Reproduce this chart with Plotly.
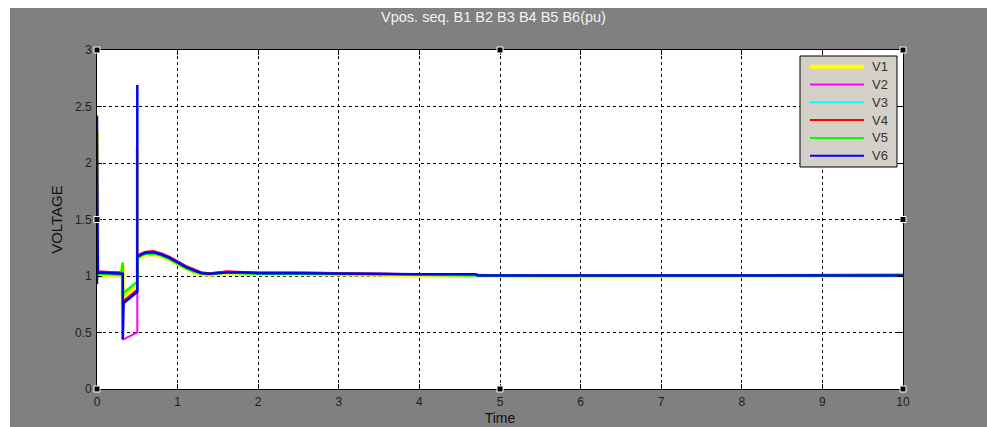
import plotly.graph_objects as go

# Simulation time (s); repeated instants mark step changes at fault/clear events
time_s = [0.0, 0.0, 0.01, 0.3, 0.32, 0.32, 0.33, 0.5, 0.5, 0.5, 0.55, 0.6, 0.7, 0.8,
          0.9, 1.0, 1.1, 1.2, 1.3, 1.4, 1.5, 1.6, 1.8, 2.0, 2.5, 3.0, 3.5, 4.0,
          4.7, 4.72, 5.5, 7.0, 7.6, 10.0]

# Positive-sequence bus voltages (pu)
v1 = [1.0, 2.29, 1.0, 1.0, 1.1, 0.7, 0.82, 0.93, 2.12, 1.15, 1.17, 1.19, 1.195, 1.175,
      1.145, 1.105, 1.065, 1.035, 1.015, 1.01, 1.02, 1.025, 1.02, 1.015, 1.015, 1.015,
      1.01, 1.005, 1.005, 1.0, 0.995, 0.995, 1.0, 1.0]
v2 = [1.04, 1.04, 1.04, 1.03, 1.03, 0.44, 0.44, 0.5, 0.5, 1.17, 1.19, 1.21, 1.22, 1.20,
      1.17, 1.13, 1.09, 1.06, 1.03, 1.025, 1.035, 1.04, 1.035, 1.03, 1.03, 1.025,
      1.02, 1.015, 1.015, 1.005, 1.005, 1.005, 1.01, 1.01]
v3 = [1.03, 1.03, 1.03, 1.02, 1.02, 0.74, 0.77, 0.87, 0.87, 1.17, 1.195, 1.21, 1.215, 1.195,
      1.165, 1.125, 1.085, 1.055, 1.025, 1.02, 1.03, 1.035, 1.03, 1.025, 1.025, 1.02,
      1.02, 1.015, 1.015, 1.005, 1.005, 1.005, 1.005, 1.005]
v4 = [1.04, 1.04, 1.04, 1.03, 1.03, 0.75, 0.78, 0.88, 0.88, 1.18, 1.20, 1.215, 1.22, 1.20,
      1.17, 1.13, 1.09, 1.06, 1.03, 1.025, 1.035, 1.04, 1.035, 1.03, 1.03, 1.025,
      1.02, 1.015, 1.015, 1.01, 1.005, 1.005, 1.01, 1.01]
v5 = [1.02, 1.02, 1.02, 1.01, 1.12, 0.8, 0.85, 0.95, 0.95, 1.16, 1.18, 1.195, 1.20, 1.18,
      1.15, 1.11, 1.07, 1.04, 1.02, 1.015, 1.025, 1.03, 1.025, 1.02, 1.02, 1.02,
      1.015, 1.01, 1.01, 1.005, 1.0, 1.0, 1.005, 1.005]
v6 = [0.93, 2.42, 1.03, 1.02, 1.02, 0.44, 0.76, 0.86, 2.69, 1.17, 1.19, 1.205, 1.21, 1.19,
      1.16, 1.12, 1.08, 1.05, 1.025, 1.02, 1.025, 1.03, 1.03, 1.025, 1.025, 1.02,
      1.02, 1.015, 1.015, 1.005, 1.005, 1.005, 1.005, 1.005]

series_names = ["V1", "V2", "V3", "V4", "V5", "V6"]
series_values = [v1, v2, v3, v4, v5, v6]
series_colors = ["#ffff00", "#ff00ff", "#00ffff", "#ff0000", "#00ff00", "#0000ff"]
series_widths = [4, 2, 2, 2, 2.5, 2.5]

x_ticks = [0, 1, 2, 3, 4, 5, 6, 7, 8, 9, 10]
y_ticks = [0, 0.5, 1, 1.5, 2, 2.5, 3]
y_tick_text = ["0", "0.5", "1", "1.5", "2", "2.5", "3"]

FONT = "Liberation Sans, Arial"
W, H = 987, 427
ML, MR, MT, MB = 97, 84, 50, 38
PW, PH = W - ML - MR, H - MT - MB


def px_x(p):
    return (p - ML) / PW


def px_y(p):
    return (H - MB - p) / PH


fig = go.Figure()
for name, vals, col, wd in zip(series_names, series_values, series_colors, series_widths):
    fig.add_trace(go.Scatter(x=time_s, y=vals, mode="lines", name=name,
                             line=dict(color=col, width=wd), showlegend=False))

axis_common = dict(
    showline=True, linecolor="#000000", linewidth=1, mirror="ticks",
    ticks="inside", ticklen=5, tickcolor="#000000",
    showgrid=True, gridcolor="#000000", gridwidth=1, griddash="3px,3px",
    zeroline=False, ticklabelstandoff=2, automargin=False,
    tickfont=dict(family=FONT, size=12, color="#1e1e1e"),
)

fig.update_xaxes(range=[0, 10], tickvals=x_ticks,
                 title=dict(text="Time", standoff=4,
                            font=dict(family=FONT, size=14, color="#111111")),
                 **axis_common)
fig.update_yaxes(range=[0, 3], tickvals=y_ticks, ticktext=y_tick_text,
                 title=dict(text="VOLTAGE", standoff=8,
                            font=dict(family=FONT, size=15, color="#111111")),
                 **axis_common)

shapes = [
    # white page strip above and left of the grey figure window
    dict(type="rect", xref="paper", yref="paper", layer="above",
         x0=px_x(-2), x1=px_x(W + 2), y0=px_y(8), y1=px_y(-2),
         fillcolor="#ffffff", line=dict(width=0)),
    dict(type="rect", xref="paper", yref="paper", layer="above",
         x0=px_x(-2), x1=px_x(10), y0=px_y(H + 2), y1=px_y(-2),
         fillcolor="#ffffff", line=dict(width=0)),
]

# legend box with line samples and labels
LEG_L, LEG_R, LEG_T, LEG_B = 800, 897, 56, 167
shapes.append(dict(type="rect", xref="paper", yref="paper", layer="above",
                   x0=px_x(LEG_L), x1=px_x(LEG_R), y0=px_y(LEG_B), y1=px_y(LEG_T),
                   fillcolor="#d4d0c8", line=dict(color="#000000", width=1)))
annotations = []
for i, (name, col) in enumerate(zip(series_names, series_colors)):
    yy = 66.7 + i * 17.8
    shapes.append(dict(type="line", xref="paper", yref="paper", layer="above",
                       x0=px_x(810), x1=px_x(864), y0=px_y(yy), y1=px_y(yy),
                       line=dict(color=col, width=4 if i == 0 else 2)))
    annotations.append(dict(text=name, xref="paper", yref="paper",
                            x=px_x(870), y=px_y(yy), xanchor="left", yanchor="middle",
                            showarrow=False,
                            font=dict(family=FONT, size=13, color="#333333")))

# selection handles around the axes box
for hx, hy in [(0, 0), (0.5, 0), (1, 0), (0, 0.5), (1, 0.5), (0, 1), (0.5, 1), (1, 1)]:
    shapes.append(dict(type="rect", xref="paper", yref="paper", layer="above",
                       xsizemode="pixel", ysizemode="pixel", xanchor=hx, yanchor=hy,
                       x0=-3, x1=3, y0=-3, y1=3,
                       fillcolor="#000000", line=dict(color="#ffffff", width=1)))

fig.update_layout(
    width=W, height=H,
    margin=dict(l=ML, r=MR, t=MT, b=MB, pad=0, autoexpand=False),
    paper_bgcolor="#808080", plot_bgcolor="#ffffff",
    title=dict(text="Vpos. seq. B1 B2 B3 B4 B5 B6(pu)", x=0.5, xanchor="center",
               y=1 - 17 / H, yanchor="middle",
               font=dict(family=FONT, size=14.5, color="#f2f2f2")),
    shapes=shapes,
    annotations=annotations,
    showlegend=False,
)

fig.write_html("out.html")
